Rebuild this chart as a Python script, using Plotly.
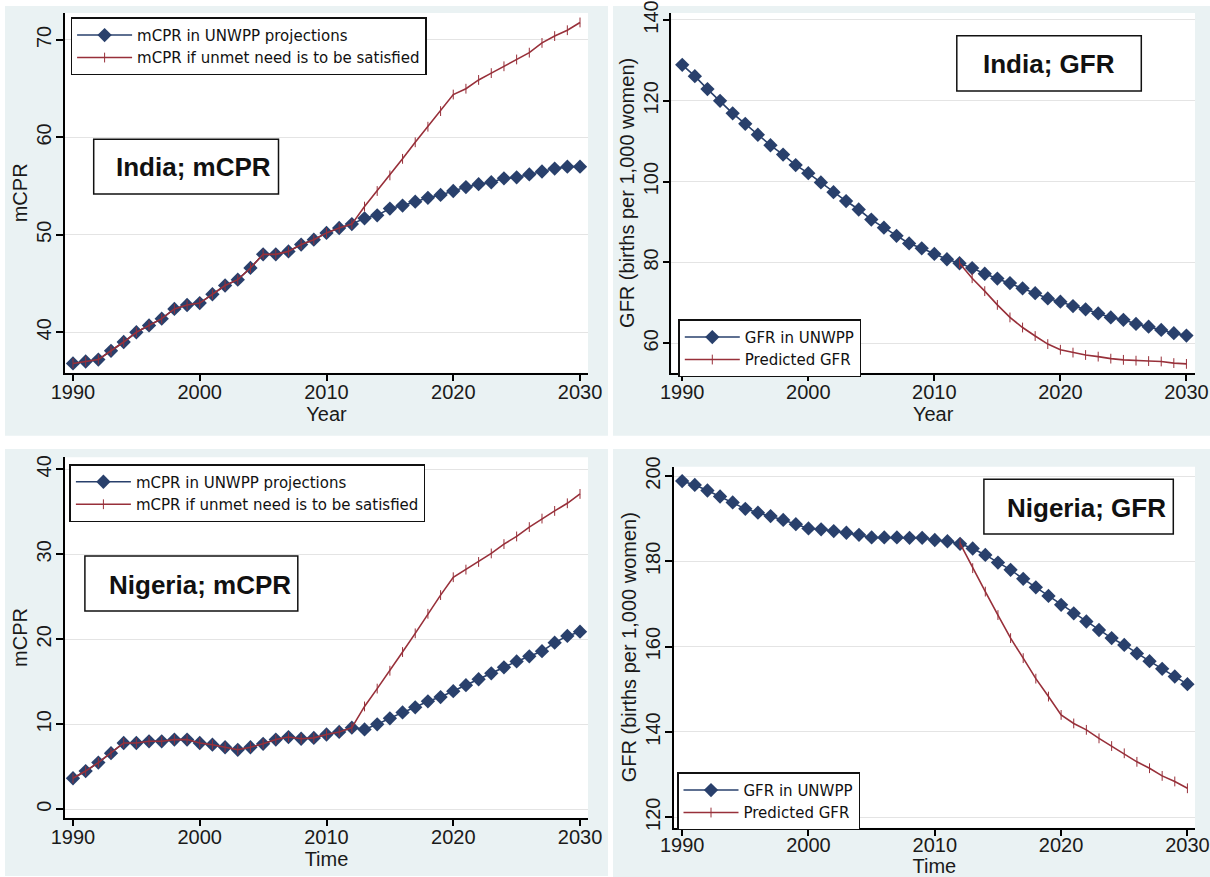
import plotly.graph_objects as go

# ---------------- data ----------------
years = list(range(1990, 2031))
years_pred = list(range(2012, 2031))

india_mcpr_unwpp = [36.8, 37.0, 37.2, 38.1, 39.0, 40.0, 40.7, 41.4, 42.4, 42.8,
                    43.0, 43.9, 44.8, 45.4, 46.6, 48.0, 48.0, 48.3, 49.0, 49.5,
                    50.2, 50.7, 51.1, 51.7, 52.0, 52.7, 53.0, 53.4, 53.8, 54.1,
                    54.5, 54.9, 55.2, 55.4, 55.8, 55.9, 56.2, 56.5, 56.8, 57.0,
                    57.0]
india_mcpr_unmet = [36.8, 37.0, 37.2, 38.1, 39.0, 40.0, 40.7, 41.4, 42.4, 42.8,
                    43.0, 43.9, 44.8, 45.4, 46.6, 48.0, 48.0, 48.3, 49.0, 49.5,
                    50.2, 50.7, 51.1, 52.9, 54.5, 56.1, 57.8, 59.5, 61.1, 62.7,
                    64.4, 65.0, 65.9, 66.6, 67.3, 68.0, 68.7, 69.7, 70.4, 71.0,
                    71.8]

india_gfr_unwpp = [128.9, 126.1, 122.9, 120.0, 116.9, 114.3, 111.6, 109.0, 106.7, 104.1,
                   102.1, 99.8, 97.4, 95.2, 93.1, 90.6, 88.6, 86.6, 84.7, 83.5,
                   82.1, 80.8, 79.8, 78.6, 77.2, 76.0, 74.9, 73.6, 72.4, 71.1,
                   70.3, 69.2, 68.4, 67.4, 66.4, 65.8, 64.8, 64.1, 63.3, 62.5,
                   61.9]
india_gfr_pred = [79.8, 76.1, 72.9, 69.5, 66.4, 63.9, 61.8, 59.8, 58.4, 57.7,
                  57.1, 56.7, 56.2, 55.9, 55.7, 55.6, 55.5, 55.1, 54.9]

nigeria_mcpr_unwpp = [3.65, 4.5, 5.5, 6.6, 7.8, 7.8, 8.0, 8.0, 8.2, 8.2,
                      7.8, 7.6, 7.3, 7.0, 7.3, 7.7, 8.2, 8.5, 8.3, 8.4,
                      8.8, 9.1, 9.6, 9.4, 10.0, 10.7, 11.4, 12.0, 12.7, 13.2,
                      13.9, 14.6, 15.3, 16.0, 16.7, 17.4, 18.0, 18.6, 19.6, 20.4,
                      20.9]
nigeria_mcpr_unmet = [3.65, 4.5, 5.5, 6.6, 7.8, 7.8, 8.0, 8.0, 8.2, 8.2,
                      7.8, 7.6, 7.3, 7.0, 7.3, 7.7, 8.2, 8.5, 8.3, 8.4,
                      8.8, 9.1, 9.6, 12.1, 14.2, 16.3, 18.5, 20.7, 23.0, 25.2,
                      27.3, 28.2, 29.1, 30.1, 31.2, 32.1, 33.2, 34.2, 35.1, 36.0,
                      37.1]

nigeria_gfr_unwpp = [198.8, 197.9, 196.6, 195.2, 193.8, 192.3, 191.4, 190.6, 189.7, 188.7,
                     187.7, 187.5, 187.1, 186.7, 186.2, 185.6, 185.6, 185.6, 185.5, 185.5,
                     185.0, 184.7, 184.1, 183.0, 181.5, 179.7, 178.0, 175.9, 173.9, 171.9,
                     169.8, 167.8, 165.9, 163.9, 162.0, 160.4, 158.4, 156.6, 154.8, 153.0,
                     151.2]
nigeria_gfr_pred = [184.2, 178.4, 172.9, 167.4, 162.0, 157.3, 152.5, 148.3, 144.0, 142.0,
                    140.5, 138.5, 136.7, 135.0, 133.0, 131.5, 129.7, 128.4, 126.8]

x_ticks = [1990, 2000, 2010, 2020, 2030]
y_ticks_india_mcpr = [40, 50, 60, 70]
y_ticks_india_gfr = [60, 80, 100, 120, 140]
y_ticks_nigeria_mcpr = [0, 10, 20, 30, 40]
y_ticks_nigeria_gfr = [120, 140, 160, 180, 200]

legend_mcpr = ["mCPR in UNWPP projections", "mCPR if unmet need is to be satisfied"]
legend_gfr = ["GFR in UNWPP", "Predicted GFR"]
panel_titles = ["India; mCPR", "India; GFR", "Nigeria; mCPR", "Nigeria; GFR"]

# ---------------- style ----------------
W, H = 1210, 877
NAVY = "#29406c"
MAROON = "#98303a"
PANEL_BG = "#eaf2f3"
FONT = "Liberation Sans, Arial, Helvetica, sans-serif"
LEG_FONT = "DejaVu Sans, Liberation Sans, Arial, sans-serif"


def px(x):
    return x / W


def py(y):
    return 1 - y / H


fig = go.Figure()


def add_pair(xa, ya, legend, x1, y1, name1, x2, y2, name2):
    fig.add_trace(go.Scatter(
        x=x1, y=y1, name=name1, mode="lines+markers", xaxis=xa, yaxis=ya, legend=legend,
        line=dict(color=NAVY, width=1.6),
        marker=dict(symbol="diamond", size=11, color=NAVY, line=dict(width=0)),
    ))
    fig.add_trace(go.Scatter(
        x=x2, y=y2, name=name2, mode="lines+markers", xaxis=xa, yaxis=ya, legend=legend,
        line=dict(color=MAROON, width=1.6),
        marker=dict(symbol="line-ns", size=7, color=MAROON, line=dict(width=1, color=MAROON)),
    ))


add_pair("x", "y", "legend", years, india_mcpr_unwpp, legend_mcpr[0], years, india_mcpr_unmet, legend_mcpr[1])
add_pair("x2", "y2", "legend2", years, india_gfr_unwpp, legend_gfr[0], years_pred, india_gfr_pred, legend_gfr[1])
add_pair("x3", "y3", "legend3", years, nigeria_mcpr_unwpp, legend_mcpr[0], years, nigeria_mcpr_unmet, legend_mcpr[1])
add_pair("x4", "y4", "legend4", years, nigeria_gfr_unwpp, legend_gfr[0], years_pred, nigeria_gfr_pred, legend_gfr[1])

# panel geometry (pixels): plot area left, right, top, bottom
panels = [
    dict(l=65, r=588, t=13, b=372.7, xr=[1989.37, 2030.63], yr=[35.85, 72.77], yt=y_ticks_india_mcpr,
         xt="Year", ytt="mCPR", xls=-6),
    dict(l=671.4, r=1195, t=13, b=372.7, xr=[1989.14, 2030.68], yr=[52.72, 141.73], yt=y_ticks_india_gfr,
         xt="Year", ytt="GFR (births per 1,000 women)", xls=-6),
    dict(l=65, r=588, t=457.3, b=817.7, xr=[1989.37, 2030.63], yr=[-0.99, 41.41], yt=y_ticks_nigeria_mcpr,
         xt="Time", ytt="mCPR", xls=-6),
    dict(l=673.7, r=1195, t=466.7, b=827.7, xr=[1989.33, 2030.6], yr=[117.56, 202.18], yt=y_ticks_nigeria_gfr,
         xt="Time", ytt="GFR (births per 1,000 women)", xls=-8),
]

axis_common = dict(
    showline=True, linecolor="black", linewidth=1.5, ticks="outside", ticklen=7, tickwidth=1.5,
    tickcolor="black", tickfont=dict(family=FONT, size=20, color="#1a1a1a"), zeroline=False,
    title_font=dict(family=FONT, size=20, color="#1a1a1a"), automargin=False,
)

layout = {}
for i, p in enumerate(panels):
    sfx = "" if i == 0 else str(i + 1)
    layout["xaxis" + sfx] = dict(
        domain=[px(p["l"]), px(p["r"])], range=p["xr"], anchor="y" + sfx,
        tickvals=x_ticks, showgrid=False, ticklabelstandoff=p["xls"],
        title=dict(text=p["xt"], standoff=1), **axis_common)
    layout["yaxis" + sfx] = dict(
        domain=[py(p["b"]), py(p["t"])], range=p["yr"], anchor="x" + sfx,
        tickvals=p["yt"], tickangle=-90, showgrid=True, gridcolor="#e4e4e4", gridwidth=1.2,
        ticklabelstandoff=-3, title=dict(text=p["ytt"], standoff=0), **axis_common)

fig.update_layout(**layout)

# panel backgrounds and white plot areas
bgs = [(5, 608, 6, 435.7), (613, 1210, 6, 435.7), (5, 608, 449, 876), (613, 1210, 449, 877)]
shapes = []
for (x0, x1, y0, y1) in bgs:
    shapes.append(dict(type="rect", xref="paper", yref="paper", x0=px(x0), x1=px(x1), y0=py(y1), y1=py(y0),
                       fillcolor=PANEL_BG, line=dict(width=0), layer="below"))
for p in panels:
    shapes.append(dict(type="rect", xref="paper", yref="paper", x0=px(p["l"]), x1=px(p["r"]),
                       y0=py(p["b"]), y1=py(p["t"]), fillcolor="white", line=dict(width=0), layer="below"))

# title boxes (pixels): x0, x1, y0, y1, text centre x, text centre y
boxes = [
    (93.7, 278.5, 139.3, 194, 193, 167),
    (956.8, 1141.3, 35.7, 91, 1049, 64),
    (84.9, 297.8, 556, 611, 200, 585),
    (983.9, 1173.3, 479.3, 534, 1086, 508),
]
annotations = []
for (x0, x1, y0, y1, tx, ty), title in zip(boxes, panel_titles):
    shapes.append(dict(type="rect", xref="paper", yref="paper", x0=px(x0), x1=px(x1), y0=py(y1), y1=py(y0),
                       fillcolor="white", line=dict(width=1.5, color="#111111"), layer="above"))
    annotations.append(dict(xref="paper", yref="paper", x=px(tx), y=py(ty), xanchor="center", yanchor="middle",
                            text="<b>" + title + "</b>", showarrow=False,
                            font=dict(family=FONT, size=26, color="#111111")))

leg_common = dict(xanchor="left", yanchor="top", bgcolor="white", bordercolor="#111111", borderwidth=1.5,
                  font=dict(family=LEG_FONT, size=15, color="#111111"), tracegroupgap=0, itemwidth=55,
                  traceorder="normal")
fig.update_layout(
    width=W, height=H, margin=dict(l=0, r=0, t=0, b=0, autoexpand=False),
    paper_bgcolor="white", plot_bgcolor="white",
    shapes=shapes, annotations=annotations,
    legend=dict(x=px(70.6), y=py(17.3), **leg_common),
    legend2=dict(x=px(678.3), y=py(319.3), **leg_common),
    legend3=dict(x=px(69.4), y=py(464), **leg_common),
    legend4=dict(x=px(677), y=py(772.3), **leg_common),
    showlegend=True,
)

fig.write_html("out.html", config={"displayModeBar": False},
               post_script="document.body.style.margin='0px';")
